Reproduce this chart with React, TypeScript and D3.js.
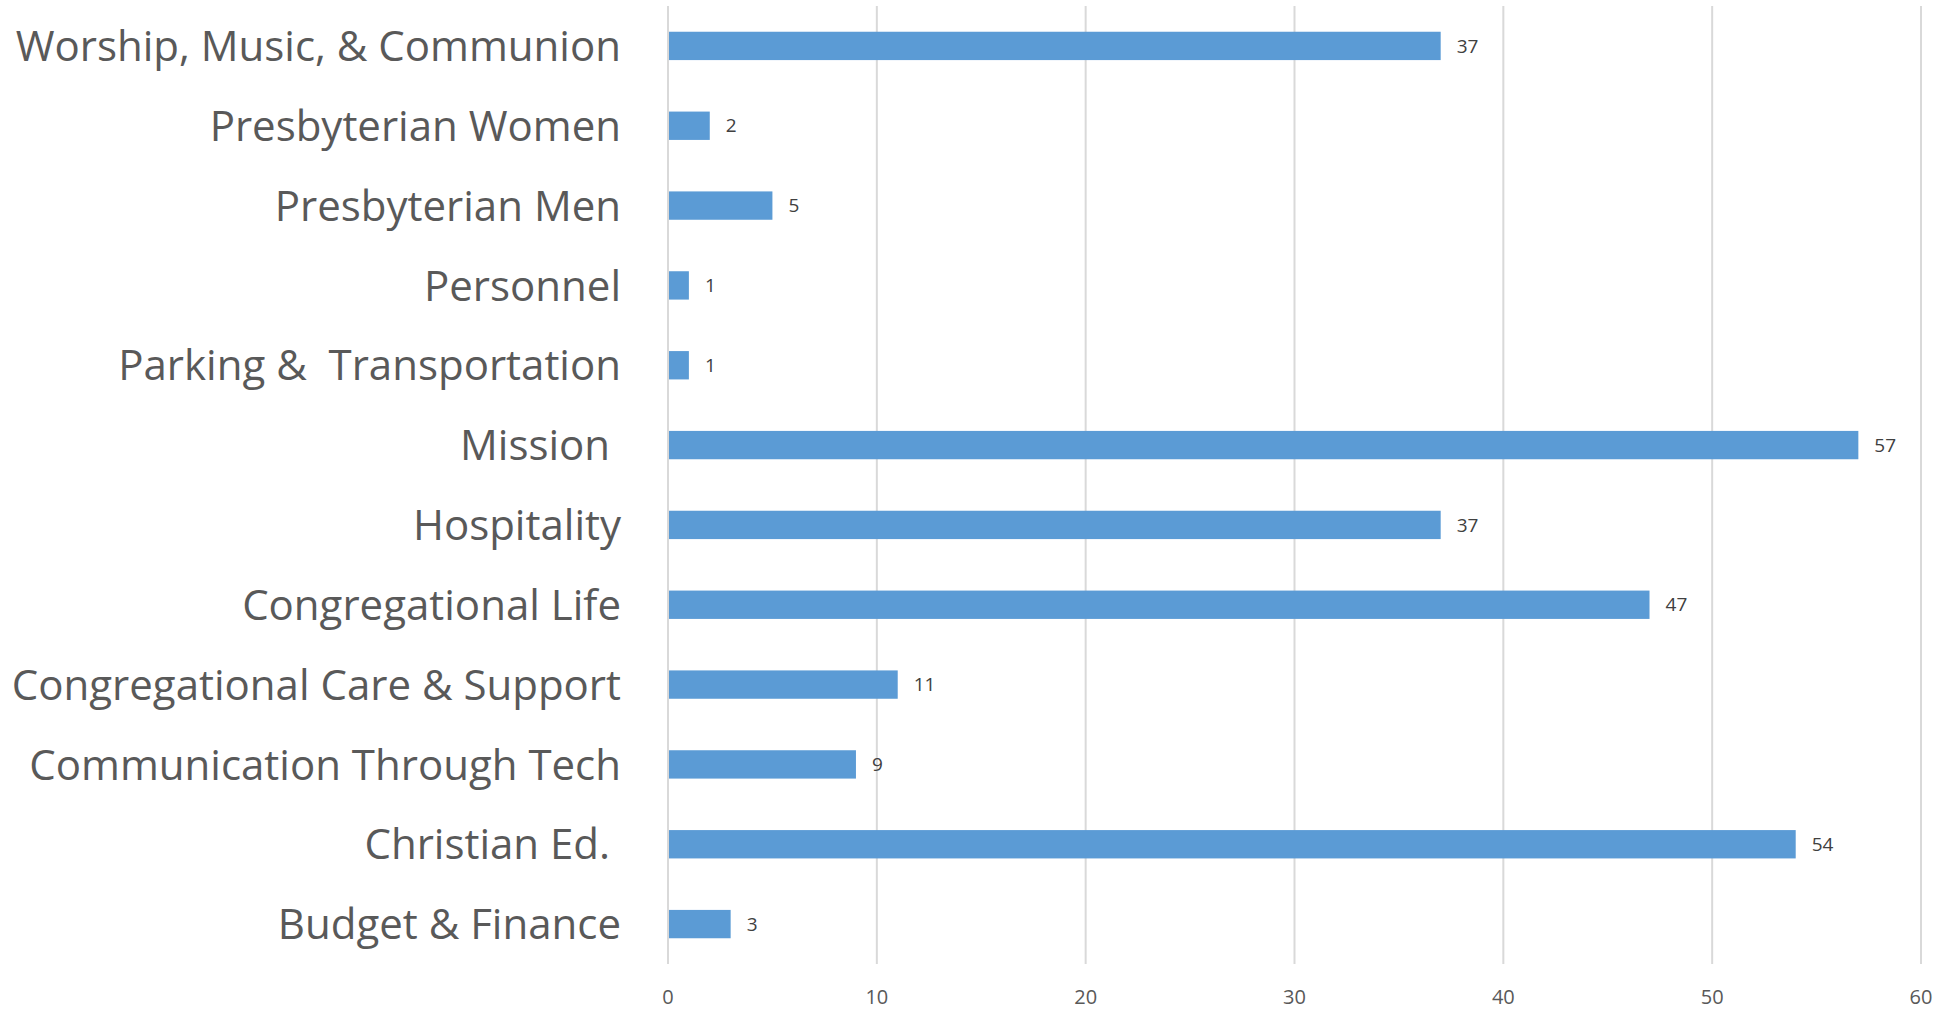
import React from 'react'
import * as d3 from 'd3'

const categories = [
  'Worship, Music, & Communion',
  'Presbyterian Women',
  'Presbyterian Men',
  'Personnel',
  'Parking &  Transportation',
  'Mission ',
  'Hospitality',
  'Congregational Life',
  'Congregational Care & Support',
  'Communication Through Tech',
  'Christian Ed. ',
  'Budget & Finance',
]
const counts = [37, 2, 5, 1, 1, 57, 37, 47, 11, 9, 54, 3]
const xTicks = [0, 10, 20, 30, 40, 50, 60]

const W = 1952
const H = 1010
const FONT = '"Open Sans", Calibri, sans-serif'

export default function App() {
  const x = d3.scaleLinear().domain([0, 60]).range([668, 1921])
  const y = d3.scaleBand<string>()
    .domain(categories)
    .range([6, 964])
    .paddingInner(0.645)
    .paddingOuter(0.3225)

  const rows = categories.map((c, i) => ({ c, v: counts[i] }))

  return (
    <svg width={W} height={H} style={{ position: 'absolute', left: 0, top: 0, background: '#fff' }}>
      {/* grid */}
      {xTicks.map(t => (
        <line key={'g' + t} x1={x(t)} x2={x(t)} y1={6} y2={964} stroke="#d9d9d9" strokeWidth={2} />
      ))}
      {/* bars */}
      {rows.map(d => (
        <rect key={d.c} x={x(0) + 1} y={y(d.c)} width={x(d.v) - x(0) - 1} height={y.bandwidth()} fill="#5b9bd5" />
      ))}
      {/* value labels */}
      {rows.map(d => (
        <text key={'v' + d.c} x={x(d.v) + 16} y={(y(d.c) as number) + y.bandwidth() / 2} dy="0.35em"
          fontFamily={FONT} fontSize={19} fill="#404040">{d.v}</text>
      ))}
      {/* category labels */}
      {rows.map(d => (
        <text key={'c' + d.c} x={621} y={(y(d.c) as number) + y.bandwidth() / 2} dy="0.36em" textAnchor="end"
          fontFamily={FONT} fontSize={42} fill="#595959" style={{ whiteSpace: 'pre' }}>{d.c}</text>
      ))}
      {/* x tick labels */}
      {xTicks.map(t => (
        <text key={'t' + t} x={x(t)} y={997} dy="0.35em" textAnchor="middle"
          fontFamily={FONT} fontSize={20} fill="#595959">{t}</text>
      ))}
    </svg>
  )
}
